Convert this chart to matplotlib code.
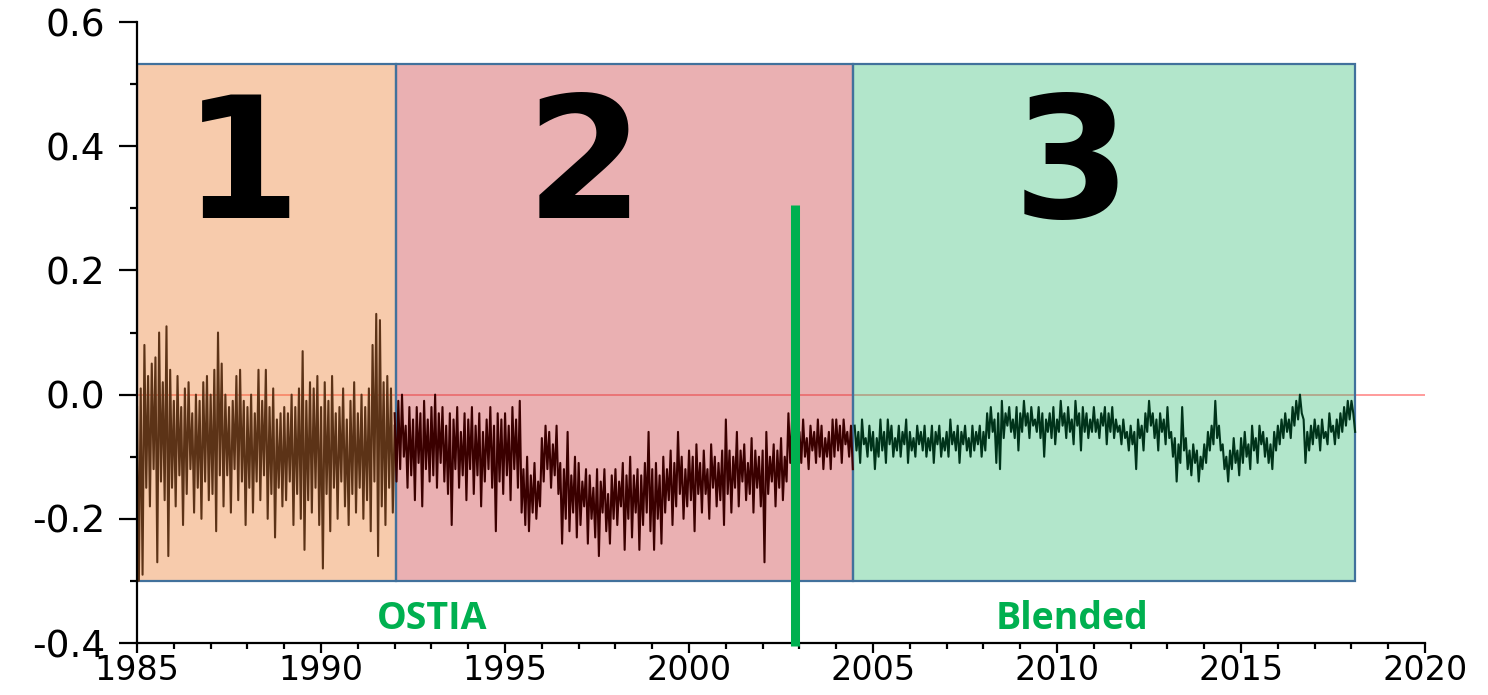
import numpy as np
import matplotlib
matplotlib.use("Agg")
import matplotlib.pyplot as plt
from matplotlib.patches import Rectangle
from matplotlib.ticker import MultipleLocator, FormatStrFormatter
from matplotlib.colors import to_rgba

plt.rcParams['axes.unicode_minus'] = False

# sampling of the series (years)
step = 0.05

# period 1: 1985.0 - 1992.0
start1 = 1985.0
series1 = [
    -0.02, -0.30, 0.01, -0.29, 0.08, -0.15, 0.03, -0.18, 0.05, -0.12, 0.06, -0.27, 0.10, -0.14, 0.02, -0.17, 0.11, -0.26, 0.04, -0.15,
    -0.01, -0.18, 0.03, -0.13, -0.02, -0.21, 0.01, -0.16, 0.02, -0.12, -0.03, -0.19, 0.00, -0.15, -0.01, -0.20, 0.02, -0.14, 0.03, -0.17,
    0.00, -0.16, 0.04, -0.22, 0.10, -0.13, 0.05, -0.18, 0.00, -0.13, -0.02, -0.19, -0.01, -0.12, 0.03, -0.17, 0.04, -0.14, -0.01, -0.21,
    -0.02, -0.15, 0.00, -0.19, -0.03, -0.14, 0.04, -0.17, -0.01, -0.13, 0.04, -0.20, -0.02, -0.16, 0.01, -0.23, -0.04, -0.15, -0.03, -0.18,
    -0.02, -0.17, -0.03, -0.14, 0.00, -0.21, -0.02, -0.16, 0.01, -0.20, 0.07, -0.25, -0.01, -0.17, 0.02, -0.19, 0.01, -0.15, 0.03, -0.21,
    -0.02, -0.28, 0.02, -0.16, -0.01, -0.22, 0.03, -0.15, -0.03, -0.20, -0.02, -0.14, 0.01, -0.18, -0.04, -0.21, -0.01, -0.16, 0.02, -0.19,
    -0.03, -0.15, 0.00, -0.20, -0.02, -0.17, 0.01, -0.22, 0.08, -0.14, 0.13, -0.26, 0.12, -0.18, 0.02, -0.21, 0.03, -0.15, 0.01, -0.19,
    -0.05,
]

# period 2: 1992.0 - 2004.45
start2 = 1992.0
series2 = [
    -0.03, -0.14, -0.01, -0.12, 0.00, -0.10, -0.05, -0.15, -0.02, -0.13, -0.04, -0.17, -0.02, -0.11, -0.03, -0.18, -0.01, -0.12, -0.04, -0.14,
    -0.02, -0.13, 0.00, -0.15, -0.03, -0.11, -0.02, -0.14, -0.05, -0.16, -0.03, -0.21, -0.04, -0.12, -0.02, -0.15, -0.06, -0.13, -0.03, -0.17,
    -0.04, -0.12, -0.02, -0.16, -0.05, -0.13, -0.03, -0.18, -0.06, -0.14, -0.04, -0.12, -0.02, -0.15, -0.05, -0.22, -0.03, -0.14, -0.04, -0.16,
    -0.03, -0.13, -0.05, -0.17, -0.02, -0.12, -0.04, -0.15, -0.01, -0.19, -0.12, -0.21, -0.10, -0.22, -0.13, -0.19, -0.11, -0.20, -0.14, -0.18,
    -0.07, -0.14, -0.05, -0.12, -0.06, -0.15, -0.08, -0.13, -0.05, -0.16, -0.11, -0.24, -0.12, -0.20, -0.06, -0.22, -0.13, -0.19, -0.10, -0.23,
    -0.11, -0.21, -0.14, -0.18, -0.12, -0.24, -0.13, -0.20, -0.15, -0.23, -0.12, -0.26, -0.14, -0.19, -0.12, -0.22, -0.16, -0.24, -0.13, -0.20,
    -0.12, -0.21, -0.14, -0.18, -0.11, -0.25, -0.13, -0.20, -0.10, -0.23, -0.13, -0.19, -0.12, -0.25, -0.13, -0.21, -0.11, -0.19, -0.06, -0.22,
    -0.12, -0.25, -0.11, -0.20, -0.13, -0.24, -0.10, -0.19, -0.12, -0.17, -0.09, -0.21, -0.11, -0.18, -0.06, -0.16, -0.10, -0.20, -0.12, -0.18,
    -0.09, -0.17, -0.10, -0.22, -0.08, -0.16, -0.11, -0.19, -0.09, -0.16, -0.12, -0.20, -0.08, -0.15, -0.10, -0.18, -0.11, -0.17, -0.09, -0.21,
    -0.04, -0.16, -0.09, -0.19, -0.10, -0.15, -0.06, -0.18, -0.09, -0.14, -0.08, -0.17, -0.11, -0.16, -0.07, -0.19, -0.09, -0.15, -0.10, -0.18,
    -0.09, -0.27, -0.06, -0.16, -0.10, -0.14, -0.08, -0.18, -0.09, -0.15, -0.07, -0.17, -0.10, -0.14, -0.03, -0.11, -0.04, -0.10, -0.05, -0.09,
    -0.06, -0.11, -0.04, -0.10, -0.07, -0.12, -0.05, -0.09, -0.06, -0.11, -0.04, -0.10, -0.05, -0.12, -0.07, -0.10, -0.06, -0.12, -0.04, -0.10,
    -0.04, -0.09, -0.05, -0.11, -0.04, -0.08, -0.06, -0.10, -0.05, -0.12,
]

# period 3: 2004.5 - 2018.1
start3 = 2004.5
series3 = [
    -0.05, -0.09, -0.06, -0.11, -0.04, -0.08, -0.07, -0.10, -0.05, -0.09,
    -0.06, -0.12, -0.07, -0.10, -0.04, -0.09, -0.06, -0.11, -0.04, -0.08, -0.05, -0.10, -0.07, -0.09, -0.05, -0.10, -0.06, -0.08, -0.04, -0.11,
    -0.06, -0.09, -0.07, -0.10, -0.05, -0.08, -0.06, -0.09, -0.05, -0.10, -0.07, -0.09, -0.05, -0.11, -0.06, -0.08, -0.05, -0.10, -0.07, -0.09,
    -0.06, -0.10, -0.04, -0.08, -0.06, -0.09, -0.05, -0.11, -0.06, -0.08, -0.05, -0.09, -0.07, -0.10, -0.05, -0.09, -0.06, -0.08, -0.05, -0.10,
    -0.06, -0.09, -0.03, -0.07, -0.02, -0.06, -0.04, -0.11, -0.03, -0.12, -0.01, -0.07, -0.03, -0.05, -0.02, -0.06, -0.04, -0.07, -0.02, -0.09,
    -0.03, -0.06, -0.01, -0.05, -0.03, -0.07, -0.02, -0.05, -0.04, -0.06, -0.02, -0.07, -0.03, -0.10, -0.04, -0.06, -0.03, -0.07, -0.02, -0.08,
    -0.04, -0.06, -0.01, -0.05, -0.03, -0.07, -0.02, -0.06, -0.04, -0.08, -0.01, -0.05, -0.03, -0.09, -0.02, -0.06, -0.03, -0.07, -0.04, -0.06,
    -0.02, -0.06, -0.04, -0.07, -0.03, -0.05, -0.02, -0.08, -0.03, -0.06, -0.02, -0.07, -0.04, -0.06, -0.05, -0.08, -0.04, -0.07, -0.06, -0.09,
    -0.05, -0.08, -0.06, -0.12, -0.04, -0.07, -0.05, -0.09, -0.03, -0.06, -0.01, -0.05, -0.03, -0.07, -0.04, -0.09, -0.03, -0.06, -0.04, -0.08,
    -0.02, -0.07, -0.06, -0.10, -0.07, -0.14, -0.08, -0.11, -0.02, -0.09, -0.07, -0.12, -0.09, -0.13, -0.08, -0.11, -0.09, -0.14, -0.10, -0.12,
    -0.08, -0.11, -0.06, -0.09, -0.05, -0.08, -0.01, -0.07, -0.05, -0.09, -0.08, -0.12, -0.10, -0.14, -0.09, -0.12, -0.07, -0.11, -0.09, -0.13,
    -0.07, -0.11, -0.06, -0.10, -0.08, -0.12, -0.05, -0.09, -0.07, -0.11, -0.05, -0.08, -0.06, -0.10, -0.07, -0.11, -0.08, -0.12, -0.06, -0.09,
    -0.05, -0.08, -0.04, -0.07, -0.03, -0.06, -0.04, -0.07, -0.02, -0.05, -0.01, -0.04, 0.00, -0.03, -0.04, -0.11, -0.06, -0.09, -0.05, -0.08,
    -0.04, -0.07, -0.05, -0.09, -0.04, -0.07, -0.06, -0.08, -0.03, -0.06, -0.05, -0.08, -0.04, -0.07, -0.03, -0.06, -0.02, -0.05, -0.01, -0.04,
    -0.01, -0.03, -0.06,
]

# shaded periods and their numbers
period_edges = [(1985.0, 1992.05), (1992.05, 2004.45), (2004.45, 2018.1)]
period_labels = ['1', '2', '3']
period_label_x = [1987.85, 1997.17, 2010.4]
box_bottom, box_top = -0.3, 0.532
switch_year = 2002.88   # OSTIA -> Blended
product_labels = ['OSTIA', 'Blended']
product_label_x = [1993.02, 2010.4]

box_colors = ['#ED7D31', '#CB3A3F', '#3FC17D']
line_colors = ['#5C3317', '#3A0000', '#00331A']

fig = plt.figure(figsize=(14.88, 6.95), dpi=100)
ax = fig.add_axes([0.0921, 0.0748, 0.8656, 0.8935])

ax.axhline(0.0, color='#FF8080', lw=1.1, zorder=0.5)

for (x0, x1), c in zip(period_edges, box_colors):
    ax.add_patch(Rectangle((x0, box_bottom), x1 - x0, box_top - box_bottom,
                           facecolor=to_rgba(c, 0.4), edgecolor='#41719C',
                           lw=1.6, zorder=1))

for xl, lab in zip(period_label_x, period_labels):
    ax.text(xl, 0.284, lab, ha='center', va='baseline', fontsize=122,
            fontweight='bold', family='DejaVu Sans', color='black', zorder=3)

for start, vals, c in zip([start1, start2, start3], [series1, series2, series3], line_colors):
    vals = np.array(vals)
    x = start + step * np.arange(len(vals))
    ax.plot(x, vals, color=c, lw=1.5, zorder=2)

ax.plot([switch_year, switch_year], [0.305, -0.405], color='#00B050', lw=6.5,
        solid_capstyle='butt', clip_on=False, zorder=4)

for xl, lab in zip(product_label_x, product_labels):
    ax.text(xl, -0.377, lab, ha='center', va='baseline', fontsize=27,
            fontweight='bold', family='Open Sans', color='#00B050')

ax.set_xlim(1985, 2020)
ax.set_ylim(-0.4, 0.6)
ax.xaxis.set_major_locator(MultipleLocator(5))
ax.xaxis.set_minor_locator(MultipleLocator(1))
ax.yaxis.set_major_locator(MultipleLocator(0.2))
ax.yaxis.set_minor_locator(MultipleLocator(0.1))
ax.yaxis.set_major_formatter(FormatStrFormatter('%.1f'))

for s in ['top', 'right']:
    ax.spines[s].set_visible(False)
for s in ['left', 'bottom']:
    ax.spines[s].set_linewidth(1.6)

ax.tick_params(axis='y', which='major', direction='out', length=13, width=1.6,
               labelsize=27, pad=10)
ax.tick_params(axis='y', which='minor', direction='out', length=5, width=1.6)
ax.tick_params(axis='x', which='major', direction='out', length=7, width=1.6,
               labelsize=24, pad=1)
ax.tick_params(axis='x', which='minor', direction='out', length=4, width=1.6)
for lab in ax.get_xticklabels() + ax.get_yticklabels():
    lab.set_family('DejaVu Sans')

fig.savefig('out.png', dpi=100)
